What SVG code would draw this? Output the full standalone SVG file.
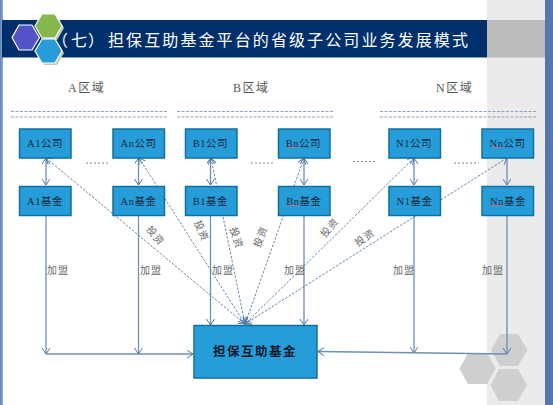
<svg xmlns="http://www.w3.org/2000/svg" width="553" height="405" viewBox="0 0 553 405">
<style>
text{font-family:"Liberation Serif","Noto Sans CJK SC",serif}
.node{fill:#269cd9;stroke:#10709f;stroke-width:1.5}
.nt{font-size:10.5px;fill:#1a2a3a;text-anchor:middle;letter-spacing:.5px}
.area{font-size:12px;fill:#555;letter-spacing:1.5px}
.sep{stroke:#8fa3ba;stroke-width:1;stroke-dasharray:3 1.5;fill:none}
.dots{stroke:#8c7f8a;stroke-width:1.2;stroke-dasharray:2 2;fill:none}
.solid{stroke:#6f8fb3;stroke-width:1.3;fill:none}
.inv{stroke:#55799f;stroke-width:.9;stroke-dasharray:2.5 1.5;fill:none}
.lbl{font-size:10px;fill:#666;text-anchor:middle;letter-spacing:1px}
.sq{stroke:#d96a6a;stroke-width:.8;fill:none}
</style>
<defs>
<marker id="arr" markerWidth="10" markerHeight="10" refX="7" refY="4" orient="auto-start-reverse" markerUnits="userSpaceOnUse"><path d="M1 0 L7 4 L1 8" fill="none" stroke="#55799f" stroke-width="1"/></marker>
<linearGradient id="lb" x1="0" x2="1" y1="0" y2="0"><stop offset="0" stop-color="#5d83bb"/><stop offset="1" stop-color="#8fabd3"/></linearGradient>
</defs>
<rect width="553" height="405" fill="#fff"/>
<rect x="0" y="0" width="3" height="405" fill="url(#lb)"/>
<rect x="487" y="0" width="58" height="405" fill="#ebebeb"/>
<rect x="545" y="0" width="8" height="405" fill="#5577ae"/>
<rect x="2" y="20" width="485" height="37.500" fill="#00306b"/>
<rect x="487" y="20" width="58" height="37.500" fill="#bbbbbb"/>
<g id="logo">
<polygon points="44,16 57,16 64,28 57,40 44,40 37,28" fill="#c9c9b0"/>
<polygon points="44,41 57,41 64,53 57,65 44,65 37,53" fill="#c9c9b0"/>
<polygon points="19,25 32,25 39.500,37.500 32,50 19,50 12,37.500" fill="#5553c8" stroke="#fff" stroke-width="1.200"/>
<polygon points="42,14 55,14 62,26 55,38 42,38 35,26" fill="#84b84f" stroke="#fff" stroke-width="1.200"/>
<polygon points="42,39 55,39 62,51 55,63 42,63 35,51" fill="#269cd9" stroke="#fff" stroke-width="1.200"/>
</g>
<text x="52 71 88" y="46" font-size="16" fill="#fff">（七）</text>
<text x="108" y="46" font-size="16" fill="#fff" letter-spacing="2.100">担保互助基金平台的省级子公司业务发展模式</text>
<g id="logo2" fill="#cfcfcf">
<polygon points="500,334 518,334 527.500,350 518,366 500,366 491,350"/>
<polygon points="468,353 487,353 495.500,368.500 487,384 468,384 459.500,368.500"/>
<polygon points="499,369 518,369 527,385 518,401 499,401 490.500,385"/>
</g>
<g id="connectors">
<path class="sep" d="M11 111.500H168M11 117H168M177 111.500H334M177 117H334M380 111.500H537M380 117H537"/>
<path class="dots" d="M86 163H110M251 163H275M353 161.500H377M454 163H479"/>
<path class="solid" marker-start="url(#arr)" marker-end="url(#arr)" d="M46 158V185"/>
<path class="solid" marker-start="url(#arr)" marker-end="url(#arr)" d="M138.500 158V185"/>
<path class="solid" marker-start="url(#arr)" marker-end="url(#arr)" d="M210.500 158V185"/>
<path class="solid" marker-start="url(#arr)" marker-end="url(#arr)" d="M304 158V185"/>
<path class="solid" marker-start="url(#arr)" marker-end="url(#arr)" d="M414 158V185"/>
<path class="solid" marker-end="url(#arr)" d="M507 158V185"/>
<path class="solid" marker-end="url(#arr)" d="M46 216V354"/>
<path class="solid" marker-end="url(#arr)" d="M138.500 216V354"/>
<path class="solid" marker-end="url(#arr)" d="M210.500 216V325"/>
<path class="solid" marker-end="url(#arr)" d="M304 216V325"/>
<path class="solid" marker-end="url(#arr)" d="M414 216V353"/>
<path class="solid" marker-end="url(#arr)" d="M507 216V354"/>
<path class="solid" marker-end="url(#arr)" d="M46 354H193"/>
<path class="solid" marker-end="url(#arr)" d="M507 354L318 351.500"/>
<path class="inv" marker-start="url(#arr)" marker-end="url(#arr)" d="M46 158L245 324"/>
<path class="inv" marker-start="url(#arr)" marker-end="url(#arr)" d="M139 158L245 324"/>
<path class="inv" marker-start="url(#arr)" marker-end="url(#arr)" d="M211 158L245 324"/>
<path class="inv" marker-start="url(#arr)" marker-end="url(#arr)" d="M304 158L245 324"/>
<path class="inv" marker-start="url(#arr)" marker-end="url(#arr)" d="M414 158L245 324"/>
<path class="inv" marker-start="url(#arr)" marker-end="url(#arr)" d="M507 158L245 324"/>
</g>
<g id="area-a"><text class="area" x="68" y="92">A区域</text></g>
<g id="area-b"><text class="area" x="233" y="92">B区域</text></g>
<g id="area-n"><text class="area" x="436" y="92">N区域</text></g>
<g id="a1-co"><rect class="node" x="19.500" y="129" width="51.500" height="29"/><text class="nt" x="45" y="147">A1公司</text></g>
<g id="an-co"><rect class="node" x="113" y="129" width="51.500" height="29"/><text class="nt" x="138.500" y="147">An公司</text></g>
<g id="b1-co"><rect class="node" x="185.500" y="129" width="51.500" height="29"/><text class="nt" x="210.500" y="147">B1公司</text></g>
<g id="bn-co"><rect class="node" x="278.500" y="129" width="51.500" height="29"/><text class="nt" x="303.500" y="147">Bn公司</text><path class="sq" d="M287 147.500H299"/></g>
<g id="n1-co"><rect class="node" x="389" y="129" width="51.500" height="29"/><text class="nt" x="414" y="147">N1公司</text></g>
<g id="nn-co"><rect class="node" x="482" y="129" width="51.500" height="29"/><text class="nt" x="507.500" y="147">Nn公司</text><path class="sq" d="M490 147.500H503"/></g>
<g id="a1-f"><rect class="node" x="19.500" y="186.500" width="51.500" height="29"/><text class="nt" x="45" y="205">A1基金</text></g>
<g id="an-f"><rect class="node" x="113" y="186.500" width="51.500" height="29"/><text class="nt" x="138.500" y="205">An基金</text></g>
<g id="b1-f"><rect class="node" x="185.500" y="186.500" width="51.500" height="29"/><text class="nt" x="210.500" y="205">B1基金</text></g>
<g id="bn-f"><rect class="node" x="278.500" y="186.500" width="51.500" height="29"/><text class="nt" x="304" y="205">Bn基金</text><path class="sq" d="M287 205.500H299"/></g>
<g id="n1-f"><rect class="node" x="389" y="186.500" width="51.500" height="29"/><text class="nt" x="414.500" y="205">N1基金</text></g>
<g id="nn-f"><rect class="node" x="482" y="186.500" width="51.500" height="29"/><text class="nt" x="508" y="205">Nn基金</text><path class="sq" d="M490 205.500H503"/></g>
<g id="fund"><rect x="194" y="325.500" width="123" height="52.500" fill="#269cd9" stroke="#10709f" stroke-width="1.500"/><text x="255" y="356" font-size="12.500" font-weight="bold" fill="#0a1a2a" text-anchor="middle" letter-spacing="1.500">担保互助基金</text></g>
<g id="labels">
<text class="lbl" transform="translate(155 236) rotate(50)" y="3">投资</text>
<text class="lbl" transform="translate(201 231) rotate(68)" y="3">投资</text>
<text class="lbl" transform="translate(236 238) rotate(72)" y="3">投资</text>
<text class="lbl" transform="translate(261 237) rotate(-68)" y="3">投资</text>
<text class="lbl" transform="translate(330 228) rotate(-50)" y="3">投资</text>
<text class="lbl" transform="translate(365 238) rotate(-35)" y="3">投资</text>
<text class="lbl" x="58" y="274">加盟</text>
<text class="lbl" x="151" y="274">加盟</text>
<text class="lbl" x="223" y="274">加盟</text>
<text class="lbl" x="295" y="274">加盟</text>
<text class="lbl" x="404" y="274">加盟</text>
<text class="lbl" x="493" y="274">加盟</text>
</g>
</svg>
